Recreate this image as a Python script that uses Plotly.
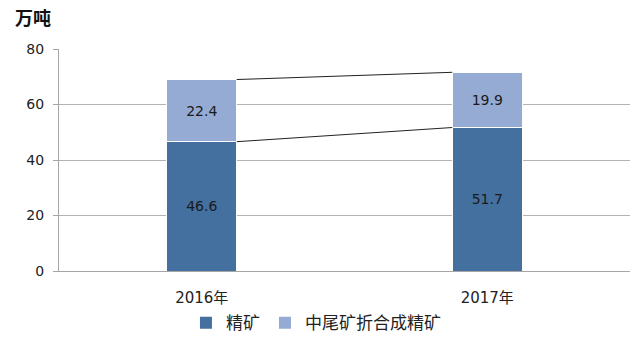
import plotly.graph_objects as go

categories = ["2016年", "2017年"]
jingkuang = [46.6, 51.7]
zhongwei = [22.4, 19.9]
series_names = ["精矿", "中尾矿折合成精矿"]
y_ticks = [0, 20, 40, 60, 80]

dark = "#44709F"
light = "#95ABD3"
font_num = "DejaVu Sans, Verdana, Noto Sans CJK SC, sans-serif"
font_cn = "Noto Sans CJK SC, sans-serif"
bar_w = 0.245

xs = list(range(len(categories)))
fig = go.Figure()
for vals, name, col in ((jingkuang, series_names[0], dark), (zhongwei, series_names[1], light)):
    fig.add_trace(go.Bar(x=xs, y=vals, name=name, marker=dict(color=col, line=dict(color="white", width=1)),
                         width=bar_w, text=[f"{v:.1f}" for v in vals], textposition="inside",
                         insidetextanchor="middle", showlegend=False,
                         textfont=dict(size=14, color="#1a1a1a", family=font_num)))

# series lines
tops1 = jingkuang
tops2 = [a + b for a, b in zip(jingkuang, zhongwei)]
for tops in (tops1, tops2):
    fig.add_trace(go.Scatter(x=[xs[0] + bar_w / 2, xs[1] - bar_w / 2], y=tops, mode="lines",
                             line=dict(color="#222222", width=1), showlegend=False, hoverinfo="skip"))

# legend entries
for name, col in ((series_names[0], dark), (series_names[1], light)):
    fig.add_trace(go.Scatter(x=[None], y=[None], mode="markers", name=name,
                             marker=dict(symbol="square", size=8, color=col)))

fig.update_layout(
    width=643, height=345,
    barmode="stack",
    margin=dict(l=59, r=13, t=49, b=74, autoexpand=False),
    plot_bgcolor="white", paper_bgcolor="white",
    legend=dict(orientation="h", x=0.45, xanchor="center", y=-0.235, yanchor="middle",
                font=dict(size=17, family=font_cn, color="#222222"), traceorder="normal",
                itemwidth=30, itemsizing="constant", tracegroupgap=0),
    annotations=[dict(text="<b>万吨</b>", x=-46/571, xref="paper", xanchor="left", y=1 + 32/222, yref="paper",
                      yanchor="middle", showarrow=False,
                      font=dict(size=18, family=font_cn, color="#111111"))],
)
fig.update_xaxes(range=[-0.5, 1.5], tickvals=xs, ticktext=categories, showgrid=False, showline=True,
                 linecolor="#A6A6A6", linewidth=1, ticks="", ticklabelstandoff=13,
                 tickfont=dict(size=15, family=font_num, color="#222222"), zeroline=False)
fig.update_yaxes(range=[0, 80], tickvals=y_ticks, showgrid=True, gridcolor="#B3B3B3", gridwidth=1,
                 showline=True, linecolor="#A6A6A6", linewidth=1, ticks="outside", ticklen=5,
                 tickcolor="#A6A6A6", ticklabelstandoff=6, zeroline=False,
                 tickfont=dict(size=14, family=font_num, color="#222222"))

fig.write_html("out.html")
